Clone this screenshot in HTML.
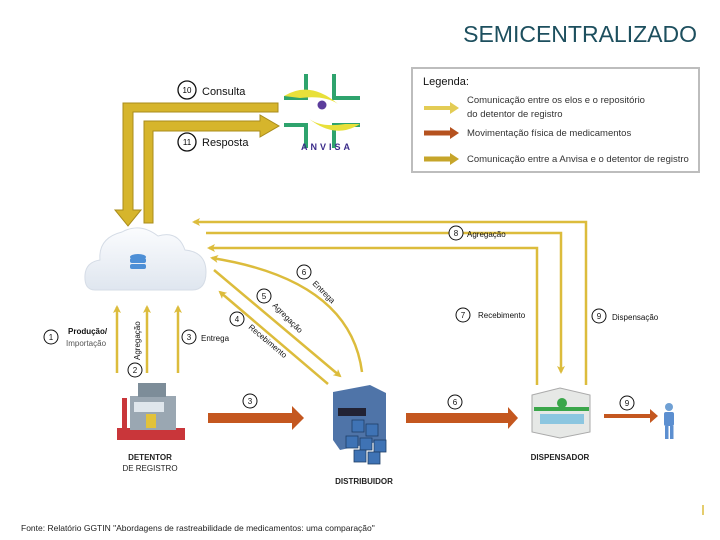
<!DOCTYPE html>
<html><head><meta charset="utf-8"><style>
body{margin:0;background:#fff;width:720px;height:540px;overflow:hidden}
svg{display:block}
text{font-family:"Liberation Sans",sans-serif}
</style></head><body>
<svg width="720" height="540" viewBox="0 0 720 540" xmlns="http://www.w3.org/2000/svg">
<defs>
<marker id="ah" markerWidth="8" markerHeight="8" refX="6" refY="4" orient="auto" markerUnits="userSpaceOnUse"><path d="M0,0 L8,4 L0,8 L2,4 Z" fill="#dcbc3c"/></marker>
<linearGradient id="cl" x1="0" y1="0" x2="0" y2="1"><stop offset="0" stop-color="#fbfcfe"/><stop offset="1" stop-color="#dfe6ef"/></linearGradient>
</defs>
<text x="697" y="42" text-anchor="end" font-size="23" fill="#1d4f5e">SEMICENTRALIZADO</text>

<!-- legend -->
<rect x="412" y="68" width="287" height="104" fill="#fff" stroke="#bdbdbd" stroke-width="2"/>
<text x="423" y="85" font-size="11" fill="#111">Legenda:</text>
<path d="M424,108 H452" stroke="#e3cc55" stroke-width="4"/><path d="M450,102 L459,108 L450,114Z" fill="#e3cc55"/>
<text x="467" y="103" font-size="9.5" fill="#333" font-family="Liberation Serif">Comunicação entre os elos e o repositório</text>
<text x="467" y="117" font-size="9.5" fill="#333" font-family="Liberation Serif">do detentor de registro</text>
<path d="M424,133 H452" stroke="#b5521f" stroke-width="5"/><path d="M450,127 L459,133 L450,139Z" fill="#b5521f"/>
<text x="467" y="136" font-size="9.5" fill="#333" font-family="Liberation Serif">Movimentação física de medicamentos</text>
<path d="M424,159 H452" stroke="#c6a52a" stroke-width="5"/><path d="M450,153 L459,159 L450,165Z" fill="#c6a52a"/>
<text x="467" y="162" font-size="9.5" fill="#333" font-family="Liberation Serif">Comunicação entre a Anvisa e o detentor de registro</text>

<!-- anvisa logo -->
<g stroke="#2ea36d" stroke-width="4" fill="none">
<path d="M306,74 V98 H284"/><path d="M334,74 V98 H360"/><path d="M306,148 V125 H284"/><path d="M334,148 V125 H360"/>
</g>
<path d="M284,96 Q310,80 338,104 Q325,95 300,98Z" fill="#e8e03a"/>
<path d="M360,124 Q335,140 308,118 Q320,128 345,124Z" fill="#e8e03a"/>
<circle cx="322" cy="105" r="4.5" fill="#5b3d9c"/>
<text x="327" y="150" text-anchor="middle" font-size="9" font-weight="bold" letter-spacing="3" fill="#3b2c8a">ANVISA</text>

<!-- big anvisa arrows -->
<path d="M278,103 H123 V210 H115 L128,226 L141,210 H133 V112 H278Z" fill="#d6b52c" stroke="#a98c1b" stroke-width="1"/>
<path d="M144,223 V121 H260 V115 L279,126 L260,137 V131 H153 V223Z" fill="#d6b52c" stroke="#a98c1b" stroke-width="1"/>
<circle cx="187" cy="90" r="9" fill="#fff" stroke="#111" stroke-width="1.3"/><text x="187" y="93" text-anchor="middle" font-size="8">10</text>
<text x="202" y="95" font-size="11" fill="#111">Consulta</text>
<circle cx="187" cy="142" r="9" fill="#fff" stroke="#111" stroke-width="1.3"/><text x="187" y="145" text-anchor="middle" font-size="8">11</text>
<text x="202" y="146" font-size="11" fill="#111">Resposta</text>

<!-- cloud -->
<path d="M95,290 Q84,290 85,275 Q86,262 100,260 Q98,238 122,232 Q140,222 158,236 Q178,230 185,250 Q206,252 206,272 Q206,290 192,290Z" fill="url(#cl)" stroke="#d5dce6" stroke-width="1"/>
<g fill="#4d8fd6"><ellipse cx="138" cy="257" rx="8" ry="3"/><rect x="130" y="258" width="16" height="5" rx="2"/><rect x="130" y="264" width="16" height="5" rx="2"/></g>

<!-- thin yellow connectors -->
<g stroke="#dcbc3c" stroke-width="2.5" fill="none">
<path d="M586,385 V222 H194" marker-end="url(#ah)"/>
<path d="M206,233 H561 V372" marker-end="url(#ah)"/>
<path d="M537,385 V248 H209" marker-end="url(#ah)"/>
<path d="M362,372 Q350,280 212,258" marker-end="url(#ah)"/>
<path d="M214,270 L340,376" marker-end="url(#ah)"/>
<path d="M328,384 L220,292" marker-end="url(#ah)"/>
<path d="M117,373 V307" marker-end="url(#ah)"/>
<path d="M147,373 V307" marker-end="url(#ah)"/>
<path d="M178,373 V307" marker-end="url(#ah)"/>
</g>

<g font-size="8" fill="#111">
<circle cx="456" cy="233" r="7" fill="#fff" stroke="#111"/><text x="456" y="236" text-anchor="middle">8</text>
<text x="467" y="237">Agregação</text>
<circle cx="463" cy="315" r="7" fill="#fff" stroke="#111"/><text x="463" y="318" text-anchor="middle">7</text>
<text x="478" y="318">Recebimento</text>
<circle cx="599" cy="316" r="7" fill="#fff" stroke="#111"/><text x="599" y="319" text-anchor="middle">9</text>
<text x="612" y="320">Dispensação</text>
<circle cx="51" cy="337" r="7" fill="#fff" stroke="#111"/><text x="51" y="340" text-anchor="middle">1</text>
<text x="68" y="334" font-weight="bold">Produção/</text>
<text x="66" y="346" fill="#555">Importação</text>
<text transform="translate(140,360) rotate(-90)">Agregação</text>
<circle cx="135" cy="370" r="7" fill="#fff" stroke="#111"/><text x="135" y="373" text-anchor="middle">2</text>
<circle cx="189" cy="337" r="7" fill="#fff" stroke="#111"/><text x="189" y="340" text-anchor="middle">3</text>
<text x="201" y="341">Entrega</text>
<circle cx="304" cy="272" r="7" fill="#fff" stroke="#111"/><text x="304" y="275" text-anchor="middle">6</text>
<text transform="translate(312,284) rotate(45)">Entrega</text>
<circle cx="264" cy="296" r="7" fill="#fff" stroke="#111"/><text x="264" y="299" text-anchor="middle">5</text>
<text transform="translate(272,306) rotate(45)">Agregação</text>
<circle cx="237" cy="319" r="7" fill="#fff" stroke="#111"/><text x="237" y="322" text-anchor="middle">4</text>
<text transform="translate(248,328) rotate(40)">Recebimento</text>
<circle cx="250" cy="401" r="7" fill="#fff" stroke="#111"/><text x="250" y="404" text-anchor="middle">3</text>
<circle cx="455" cy="402" r="7" fill="#fff" stroke="#111"/><text x="455" y="405" text-anchor="middle">6</text>
<circle cx="627" cy="403" r="7" fill="#fff" stroke="#111"/><text x="627" y="406" text-anchor="middle">9</text>
</g>

<!-- orange arrows -->
<path d="M208,413 H292 V406 L304,418 L292,430 V423 H208Z" fill="#c4571f"/>
<path d="M406,413 H508 V407 L518,418 L508,429 V423 H406Z" fill="#c4571f"/>
<path d="M604,414 H650 V409 L658,416 L650,423 V418 H604Z" fill="#c4571f"/>

<!-- factory -->
<rect x="117" y="428" width="68" height="12" fill="#c9363a"/>
<rect x="122" y="398" width="5" height="30" fill="#c9363a"/>
<rect x="130" y="396" width="46" height="34" fill="#9aa7b2"/>
<rect x="138" y="383" width="28" height="14" fill="#7d8d99"/>
<rect x="134" y="402" width="30" height="10" fill="#dfe6ec"/>
<rect x="146" y="414" width="10" height="14" fill="#e2c23a"/>
<!-- distributor -->
<path d="M333,392 L370,385 L386,393 V440 L340,450 L333,440Z" fill="#4f74a8"/>
<rect x="338" y="408" width="28" height="8" fill="#223"/>
<g fill="#3f73b5" stroke="#1f3e66" stroke-width="0.8">
<rect x="352" y="420" width="12" height="12"/><rect x="366" y="424" width="12" height="12"/><rect x="346" y="436" width="12" height="12"/><rect x="360" y="438" width="12" height="12"/><rect x="374" y="440" width="12" height="12"/><rect x="354" y="450" width="12" height="12"/><rect x="368" y="452" width="12" height="12"/></g>
<!-- dispensador -->
<path d="M532,395 L560,388 L590,395 V432 L560,438 L532,432Z" fill="#e6e8e6" stroke="#aaa"/>
<rect x="534" y="407" width="55" height="4" fill="#3aa64a"/>
<circle cx="562" cy="403" r="5" fill="#3aa64a"/>
<rect x="540" y="414" width="44" height="10" fill="#8cc6e0"/>
<!-- person -->
<circle cx="669" cy="407" r="4" fill="#6fa0d4"/>
<rect x="664" y="412" width="10" height="14" rx="2" fill="#5c8fd0"/>
<rect x="665" y="426" width="3.5" height="13" fill="#5c8fd0"/><rect x="670" y="426" width="3.5" height="13" fill="#5c8fd0"/>

<g font-size="8" font-weight="bold" fill="#222" text-anchor="middle">
<text x="150" y="460">DETENTOR</text>
<text x="150" y="471" font-weight="normal">DE REGISTRO</text>
<text x="364" y="484">DISTRIBUIDOR</text>
<text x="560" y="460">DISPENSADOR</text>
</g>
<path d="M703,505 V515" stroke="#dcbc3c" stroke-width="1.5"/>
<text x="21" y="531" font-size="8.5" fill="#222">Fonte: Relatório GGTIN "Abordagens de rastreabilidade de medicamentos: uma comparação"</text>
</svg>
</body></html>
